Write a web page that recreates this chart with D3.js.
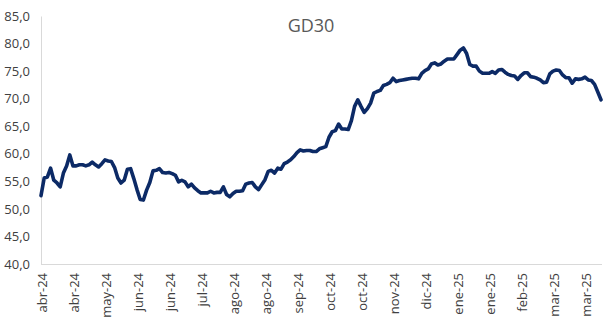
<!DOCTYPE html>
<html><head><meta charset="utf-8">
<script src="https://cdn.jsdelivr.net/npm/d3@7"></script>
<style>body{margin:0;background:#fff}svg{display:block}</style>
</head><body>
<script>
const title = "GD30";
const tickLabels = ["abr-24","abr-24","may-24","jun-24","jun-24","jul-24","ago-24","ago-24","sep-24","oct-24","oct-24","nov-24","dic-24","ene-25","ene-25","feb-25","mar-25","mar-25"];
const labelEvery = 10;
const yTicks = [40,45,50,55,60,65,70,75,80,85];
const values = [
52.4,55.6,55.8,57.4,55.2,54.7,54.0,56.5,57.8,59.8,
57.8,57.8,58.0,58.0,57.8,58.0,58.5,58.0,57.6,58.2,
58.9,58.7,58.6,57.5,55.6,54.7,55.2,57.2,57.3,55.5,
53.5,51.7,51.6,53.4,54.8,56.9,57.0,57.3,56.6,56.5,
56.6,56.4,56.1,54.9,55.2,54.9,54.0,54.5,53.8,53.3,
52.9,52.9,52.9,53.2,52.9,53.0,53.0,54.0,52.6,52.2,
52.8,53.2,53.2,53.3,54.5,54.7,54.8,54.0,53.5,54.4,
55.3,56.8,57.0,56.5,57.4,57.2,58.2,58.5,58.9,59.5,
60.2,60.7,60.5,60.6,60.6,60.4,60.4,60.9,61.1,61.3,
63.0,64.0,64.2,65.4,64.5,64.5,64.4,66.0,68.6,69.8,
68.6,67.5,68.2,69.2,71.0,71.3,71.5,72.4,72.6,72.9,
73.7,73.1,73.3,73.4,73.5,73.6,73.7,73.7,73.6,74.6,
75.1,75.4,76.3,76.5,76.1,76.3,76.8,77.2,77.2,77.2,
78.0,78.8,79.2,78.2,76.2,75.9,75.9,75.0,74.6,74.6,
74.6,74.9,74.6,75.2,75.3,74.8,74.4,74.2,74.1,73.5,
74.2,74.7,74.7,74.0,73.9,73.7,73.4,72.9,73.0,74.5,
75.0,75.2,75.1,74.3,73.8,73.8,72.8,73.6,73.5,73.6,
73.9,73.4,73.3,72.6,71.2,69.8
];

const W = 607, H = 325;
const svg = d3.select("body").append("svg").attr("width", W).attr("height", H);
const font = "'Open Sans', 'Noto Sans', sans-serif";

const x = d3.scaleLinear().domain([0, values.length - 1]).range([41, 601]);
const y = d3.scaleLinear().domain([40, 85]).range([264, 16]);

// axes
const yAxis = d3.axisLeft(y).tickValues(yTicks).tickSize(0).tickPadding(11)
  .tickFormat(d => d3.format(".1f")(d).replace(".", ","));
const gy = svg.append("g").attr("transform", "translate(41,0)").call(yAxis);
gy.select(".domain").attr("stroke", "#d9d9d9");
gy.selectAll("text").attr("font-family", font).attr("font-size", 13).attr("fill", "#404040");

const tickIdx = tickLabels.map((d, i) => i * labelEvery);
const xAxis = d3.axisBottom(x).tickValues(tickIdx).tickSize(0).tickPadding(0)
  .tickFormat((d, i) => tickLabels[i]);
const gx = svg.append("g").attr("transform", "translate(0,264)").call(xAxis);
gx.select(".domain").attr("stroke", "#d9d9d9").attr("d", "M41,0.5H602");
gx.selectAll("text")
  .attr("font-family", font).attr("font-size", 13).attr("fill", "#404040")
  .attr("transform", "rotate(-90)")
  .attr("text-anchor", "end").attr("dy", "0.35em").attr("x", -9).attr("y", 1);

// line
svg.append("path").datum(values)
  .attr("fill", "none").attr("stroke", "#0c2a66").attr("stroke-width", 3.6)
  .attr("stroke-linejoin", "round").attr("stroke-linecap", "round")
  .attr("d", d3.line().x((d, i) => x(i)).y(d => y(d)));

// title
svg.append("text").attr("x", 311).attr("y", 32).attr("text-anchor", "middle")
  .attr("font-family", font).attr("font-size", 18).attr("fill", "#595959").text(title);
</script>
</body></html>
